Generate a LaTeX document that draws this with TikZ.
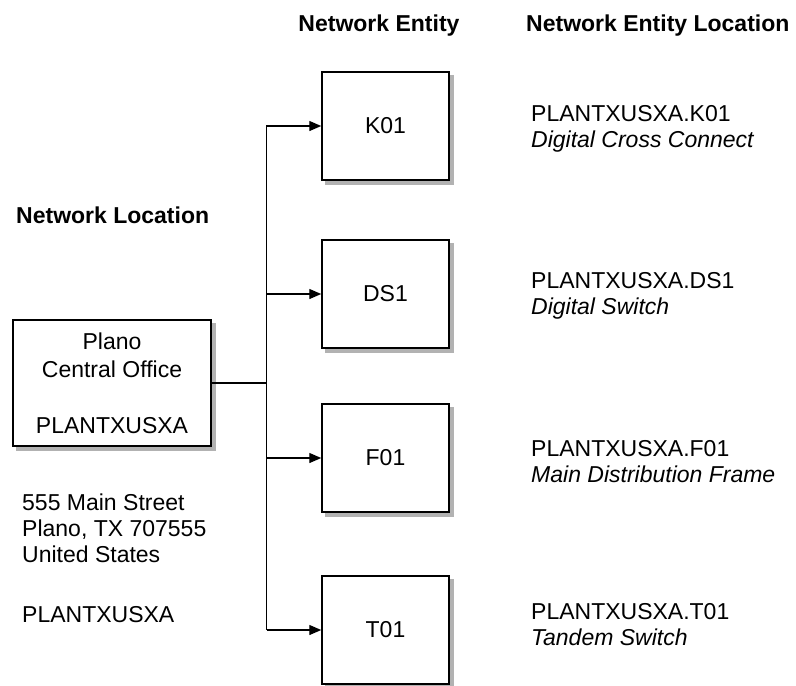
\documentclass[tikz,border=0pt]{standalone}
\usepackage{fontspec}
\setmainfont{Liberation Sans}
\usetikzlibrary{arrows.meta}
\begin{document}
\begin{tikzpicture}[x=1pt,y=-1pt,
  every node/.style={font=\fontsize{23}{26}\selectfont,inner sep=0pt},
  box/.style={draw,line width=1.5pt,fill=white,
    preaction={fill=black!30,draw=black!30,transform canvas={xshift=4pt,yshift=-4pt}}},
  entity/.style={box,minimum width=127pt,minimum height=108pt},
  heading/.style={font=\fontsize{23}{26}\selectfont\bfseries},
  loctext/.style={anchor=north west,align=left},
  link/.style={line width=1.3pt},
  >={Triangle[length=12pt,width=10pt]}]
\useasboundingbox (0,0) rectangle (796,686);
% headings
\node[heading,anchor=north] (enthead) at (379,15) {Network Entity};
\node[heading,anchor=north west] (lochead) at (526,15) {Network Entity Location};
\node[heading,anchor=north west] (nethead) at (16,207) {Network Location};
% network location
\node[box,minimum width=198pt,minimum height=126pt,align=center,
  font=\fontsize{23}{28}\selectfont] (office) at (112,383)
  {Plano\\Central Office\\[28pt]PLANTXUSXA};
\node[loctext] (address) at (22,494)
  {555 Main Street\\Plano, TX 707555\\United States\\[34pt]PLANTXUSXA};
% network entities
\node[entity] (k01) at (385.5,126) {K01};
\node[entity] (ds1) at (385.5,294) {DS1};
\node[entity] (f01) at (385.5,458) {F01};
\node[entity] (t01) at (385.5,630) {T01};
\node[loctext] (k01loc) at (531,105) {PLANTXUSXA.K01\\\textit{Digital Cross Connect}};
\node[loctext] (ds1loc) at (531,272) {PLANTXUSXA.DS1\\\textit{Digital Switch}};
\node[loctext] (f01loc) at (531,440) {PLANTXUSXA.F01\\\textit{Main Distribution Frame}};
\node[loctext] (t01loc) at (531,603) {PLANTXUSXA.T01\\\textit{Tandem Switch}};
% connectors
\coordinate (junction) at ([xshift=55pt]office.east);
\draw[link] (office.east) -- (junction);
\draw[link,->] (junction |- t01.west) -- (junction |- k01.west) -- (k01.west);
\draw[link,->] (junction |- ds1.west) -- (ds1.west);
\draw[link,->] (junction |- f01.west) -- (f01.west);
\draw[link,->] (junction |- t01.west) -- (t01.west);
\end{tikzpicture}
\end{document}
